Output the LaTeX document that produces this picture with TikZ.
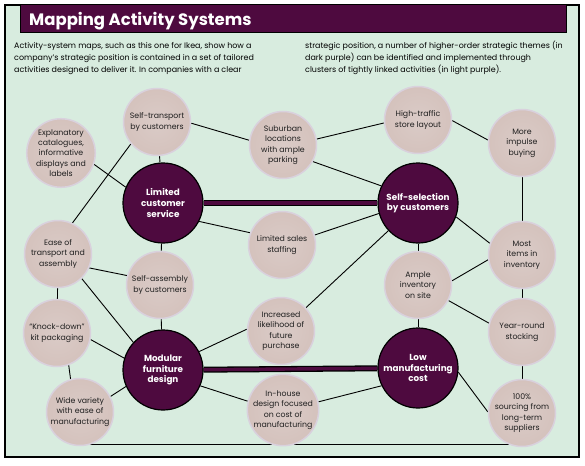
\documentclass[tikz,border=0pt]{standalone}
\usepackage{fontspec}
\newfontfamily\pop{Poppins}
\usetikzlibrary{backgrounds}
\definecolor{mint}{HTML}{D8ECDF}
\definecolor{plum}{HTML}{4E0A3F}
\definecolor{tanA}{HTML}{D2BEB8}
\definecolor{tanB}{HTML}{DACBC7}
\definecolor{rim}{HTML}{E2DCE6}
\definecolor{rimD}{HTML}{D9D1DD}
\pgfdeclareradialshading{disc}{\pgfpoint{0bp}{0bp}}{color(0bp)=(tanB); color(36bp)=(tanA); color(44bp)=(tanB); color(50bp)=(rim)}
\begin{document}
\begin{tikzpicture}[x=1pt,y=-1pt,
  act/.style={circle, minimum size=67pt, inner sep=0pt, shade, shading=disc, draw=rimD, line width=1.5pt, align=center, text=black!88, font=\pop\fontsize{7.8}{10.4}\selectfont},
  theme/.style={circle, minimum size=80pt, inner sep=0pt, fill=plum, draw=black, line width=1.2pt, align=center, text=white, font=\pop\bfseries\fontsize{8.8}{10.6}\selectfont},
  conn/.style={line width=0.9pt, black},
  thickA/.style={line width=6pt, black},
  thickB/.style={line width=3.4pt, plum},
  body/.style={anchor=base west, inner sep=0pt, font=\pop\fontsize{7.95}{9}\selectfont, text=black}
]
\useasboundingbox (0,0) rectangle (585,465);
% activity and theme nodes
\node[act]   (st)  at (157,122) {Self-transport\\by customers};
\node[act]   (ex)  at (61,153)  {Explanatory\\catalogues,\\informative\\displays and\\labels};
\node[theme] (lcs) at (163,203) {Limited\\customer\\service};
\node[act]   (ea)  at (58,254)  {Ease of\\transport and\\assembly};
\node[act]   (sa)  at (160,285) {Self-assembly\\by customers};
\node[act]   (kd)  at (57,333)  {“Knock-down”\\kit packaging};
\node[theme] (mfd) at (163,370) {Modular\\furniture\\design};
\node[act]   (wv)  at (80,412)  {Wide variety\\with ease of\\manufacturing};
\node[act]   (sub) at (283,145) {Suburban\\locations\\with ample\\parking};
\node[act]   (lss) at (282,245) {Limited sales\\staffing};
\node[act]   (inc) at (281,331) {Increased\\likelihood of\\future\\purchase};
\node[act]   (ih)  at (283,410) {In-house\\design focused\\on cost of\\manufacturing};
\node[act]   (ht)  at (418,120) {High-traffic\\store layout};
\node[theme] (ssc) at (418,203) {Self-selection\\by customers};
\node[act]   (ai)  at (418,285) {Ample\\inventory\\on site};
\node[theme] (lmc) at (418,368) {Low\\manufacturing\\cost};
\node[act]   (mib) at (522,143) {More\\impulse\\buying};
\node[act]   (mi)  at (522,255) {Most\\items in\\inventory};
\node[act]   (yr)  at (522,332) {Year-round\\stocking};
\node[act]   (src) at (522,413) {100\%\\sourcing from\\long-term\\suppliers};
\begin{scope}[on background layer]
  \fill[white] (0,0) rectangle (585,465);
  \fill[mint] (5,5) rectangle (579,457);
  % thick theme links
  \draw[thickA] (lcs) -- (ssc);
  \draw[thickB] (lcs) -- (ssc);
  \draw[thickA] (mfd) -- (lmc);
  \draw[thickB] (mfd) -- (lmc);
  % thin links
  \draw[conn] (ex.-19) -- (lcs.157);
  \draw[conn] (st) -- (lcs);
  \draw[conn] (st.-2) -- (sub.172);
  \draw[conn] (st.220) -- (ea.65);
  \draw[conn] (sub.10) -- (ht.185);
  \draw[conn] (sub.-29) -- (ssc.155);
  \draw[conn] (lcs.-27) -- (lss.159);
  \draw[conn] (lss.17) -- (ssc.195);
  \draw[conn] (ssc) -- (inc);
  \draw[conn] (inc.177) -- (mfd.27);
  \draw[conn] (ht.-1) -- (mib.175);
  \draw[conn] (mib) -- (mi);
  \draw[conn] (ssc.-20) -- (mi.160);
  \draw[conn] (ssc) -- (ai);
  \draw[conn] (mi.188) -- (ai.7);
  \draw[conn] (ai.-27) -- (yr.165);
  \draw[conn] (ai) -- (lmc);
  \draw[conn] (mi) -- (yr);
  \draw[conn] (yr) -- (src);
  \draw[conn] (lmc.-6) -- (src.178);
  \draw[conn] (lmc.206) -- (ih.13);
  \draw[conn] (ih.166) -- (mfd.-23);
  \draw[conn] (mfd) -- (sa);
  \draw[conn] (lcs) -- (sa);
  \draw[conn] (mfd.137) -- (ea.-46);
  \draw[conn] (mfd.163) -- (kd.-11);
  \draw[conn] (mfd.204) -- (wv.27);
  \draw[conn] (kd.-70) -- (wv.106);
  \draw[conn] (ea) -- (kd);
  \draw[conn] (ea.-24) -- (sa.164);
  \draw[conn] ([yshift=-32pt]wv.center) -- ([yshift=-31pt]src.center);
\end{scope}
% frame and title bar
\draw[line width=1.3pt] (5,5) rectangle (579,457);
\draw[fill=plum, line width=1pt] (20,5) rectangle (566,33);
\node[anchor=base west, inner sep=0pt, text=white, font=\pop\bfseries\fontsize{16.5}{18}\selectfont] (title) at (29,26) {Mapping Activity Systems};
% intro text
\node[body] (t1) at (14,49)   {Activity-system maps, such as this one for Ikea, show how a};
\node[body] (t2) at (14,61)   {company’s strategic position is contained in a set of tailored};
\node[body] (t3) at (14,72.5) {activities designed to deliver it. In companies with a clear};
\node[body] (t4) at (305,49)  {strategic position, a number of higher-order strategic themes (in};
\node[body] (t5) at (305,61)  {dark purple) can be identified and implemented through};
\node[body] (t6) at (305,72.5){clusters of tightly linked activities (in light purple).};
\end{tikzpicture}
\end{document}
